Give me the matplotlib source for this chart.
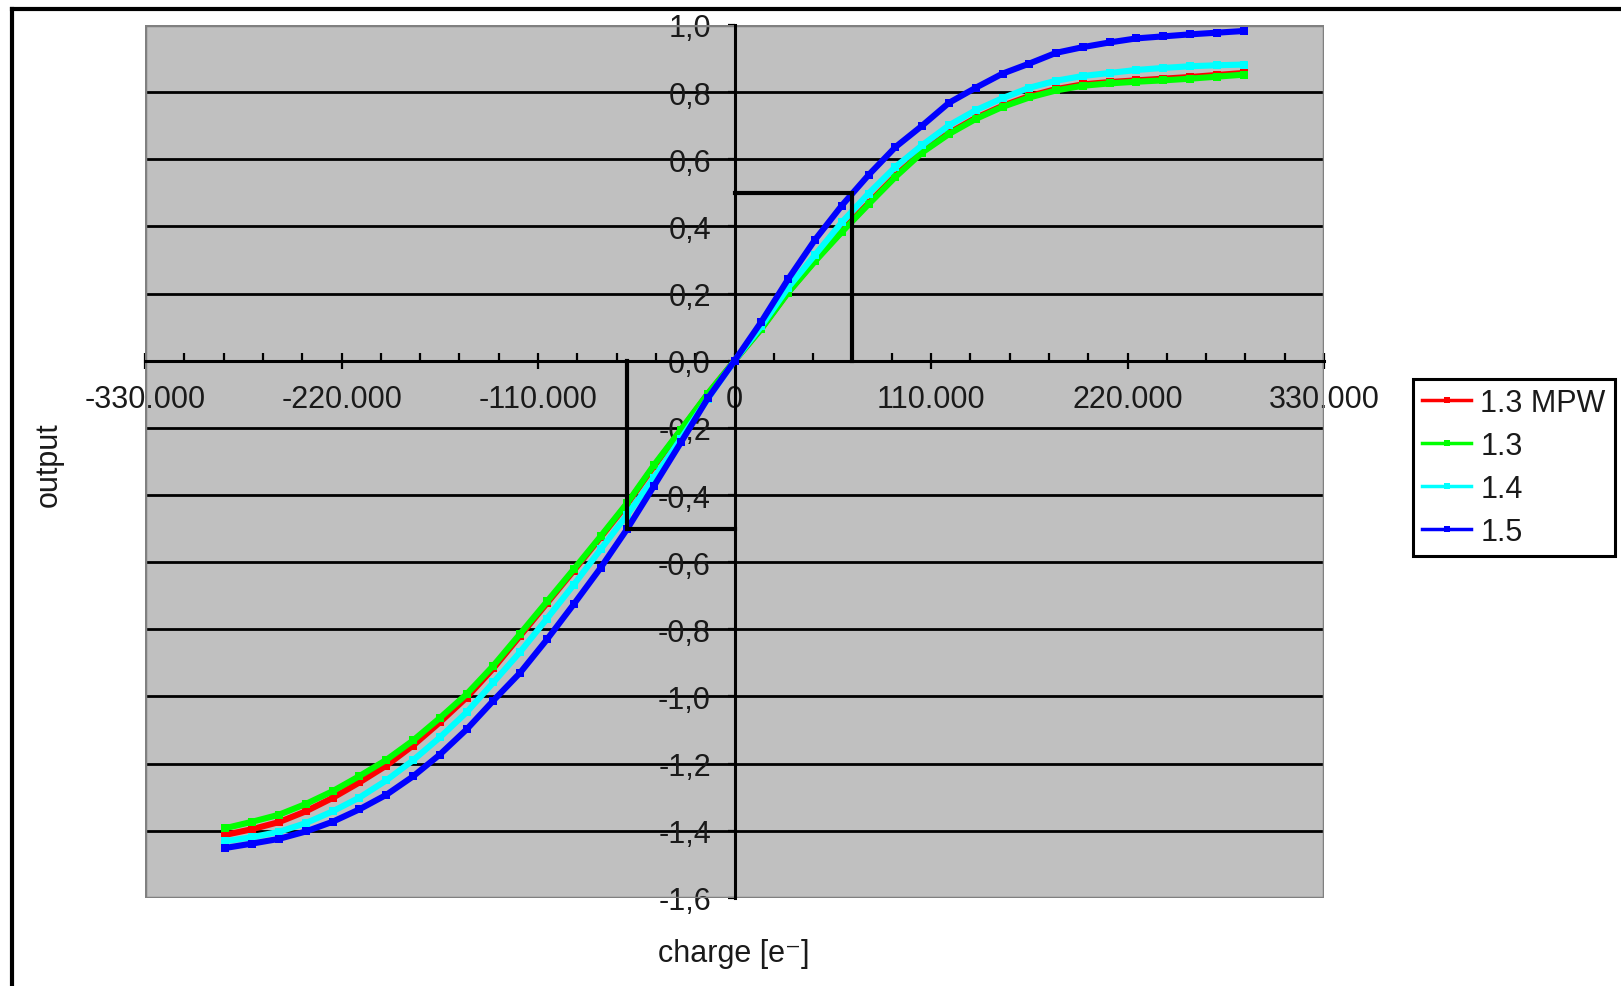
"""
Transfer curves: output vs injected charge for four chip versions.
Excel-style chart (gray plot area, axes crossing at the origin).
"""

import matplotlib
matplotlib.use("Agg")
import matplotlib.pyplot as plt
from matplotlib.patches import Rectangle
from matplotlib.lines import Line2D
from matplotlib.ticker import MultipleLocator

plt.rcParams.update({
    "font.family": ["Liberation Sans", "DejaVu Sans"],
    "axes.unicode_minus": False,
})

# ================================================================
# Data
# ================================================================
CHARGE = [
    -285000, -270000, -255000, -240000, -225000, -210000, -195000, -180000,
    -165000, -150000, -135000, -120000, -105000, -90000, -75000, -60000,
    -45000, -30000, -15000, 0, 15000, 30000, 45000, 60000, 75000, 90000,
    105000, 120000, 135000, 150000, 165000, 180000, 195000, 210000, 225000,
    240000, 255000, 270000, 285000,
]

OUT_13MPW = [
    -1.412, -1.395, -1.374, -1.342, -1.302, -1.256, -1.206, -1.146,
    -1.077, -1.003, -0.916, -0.819, -0.722, -0.625, -0.526, -0.426,
    -0.313, -0.207, -0.099, 0.0, 0.096, 0.204, 0.298, 0.386, 0.469, 0.550,
    0.623, 0.678, 0.723, 0.759, 0.788, 0.809, 0.823, 0.830, 0.835,
    0.840, 0.845, 0.851, 0.857,
]

OUT_13 = [
    -1.392, -1.373, -1.352, -1.320, -1.282, -1.237, -1.189, -1.131,
    -1.064, -0.993, -0.908, -0.813, -0.717, -0.621, -0.523, -0.423,
    -0.310, -0.205, -0.098, 0.0, 0.095, 0.203, 0.296, 0.383, 0.466, 0.547,
    0.620, 0.675, 0.720, 0.756, 0.784, 0.805, 0.819, 0.826, 0.831,
    0.835, 0.840, 0.846, 0.852,
]

OUT_14 = [
    -1.431, -1.419, -1.403, -1.377, -1.342, -1.301, -1.250, -1.190,
    -1.122, -1.047, -0.958, -0.867, -0.768, -0.667, -0.562, -0.458,
    -0.348, -0.232, -0.113, 0.0, 0.103, 0.218, 0.315, 0.412, 0.498, 0.577,
    0.642, 0.701, 0.746, 0.782, 0.813, 0.834, 0.848, 0.857, 0.866,
    0.872, 0.877, 0.880, 0.882,
]

OUT_15 = [
    -1.451, -1.438, -1.424, -1.402, -1.373, -1.336, -1.293, -1.238,
    -1.173, -1.098, -1.012, -0.929, -0.830, -0.725, -0.617, -0.500,
    -0.372, -0.243, -0.112, 0.0, 0.116, 0.243, 0.360, 0.462, 0.553, 0.636,
    0.700, 0.768, 0.813, 0.855, 0.885, 0.917, 0.934, 0.948, 0.960,
    0.966, 0.972, 0.977, 0.982,
]

SERIES_LABELS = ["1.3 MPW", "1.3", "1.4", "1.5"]
SERIES_COLORS = ["#FF0000", "#00FF00", "#00FFFF", "#0000FF"]

# threshold markers drawn on the chart (half-swing points of 1.5)
POS_MARK_X = [0, 66000, 66000]
POS_MARK_Y = [0.5, 0.5, 0.0]
NEG_MARK_X = [-60000, -60000, 0]
NEG_MARK_Y = [0.0, -0.5, -0.5]

X_TICKS = [-330000, -220000, -110000, 0, 110000, 220000, 330000]
X_LABELS = ["-330.000", "-220.000", "-110.000", "0", "110.000", "220.000", "330.000"]
Y_TICKS = [1.0, 0.8, 0.6, 0.4, 0.2, 0.0, -0.2, -0.4, -0.6, -0.8, -1.0, -1.2, -1.4, -1.6]
Y_LABELS = ["1,0", "0,8", "0,6", "0,4", "0,2", "0,0", "-0,2", "-0,4", "-0,6",
            "-0,8", "-1,0", "-1,2", "-1,4", "-1,6"]

TEXT_COLOR = "#1a1a1a"
FS = 22

# ================================================================
# Figure
# ================================================================
fig = plt.figure(figsize=(16.21, 9.87), dpi=100)
ax = fig.add_axes([0.0895, 0.0892, 0.7273, 0.8845])
ax.set_facecolor("#C0C0C0")
ax.set_xlim(-330000, 330000)
ax.set_ylim(-1.6, 1.0)

# axes crossing at the origin
for side in ("top", "right"):
    ax.spines[side].set_visible(False)
ax.spines["left"].set_position(("data", 0))
ax.spines["bottom"].set_position(("data", 0))
for side in ("left", "bottom"):
    ax.spines[side].set_color("black")
    ax.spines[side].set_linewidth(2.2)

ax.set_xticks(X_TICKS, labels=X_LABELS)
ax.xaxis.set_minor_locator(MultipleLocator(22000))
ax.set_yticks(Y_TICKS, labels=Y_LABELS)
ax.tick_params(axis="x", which="major", direction="inout", length=12, width=1.6,
               pad=11, labelsize=FS, labelcolor=TEXT_COLOR)
ax.tick_params(axis="x", which="minor", direction="in", length=6, width=1.6)
ax.tick_params(axis="y", direction="out", length=5, width=1.6,
               pad=12, labelsize=FS, labelcolor=TEXT_COLOR)

# horizontal grid, skipping the plot-area edges
ax.set_axisbelow(True)
ax.grid(axis="y", color="black", linewidth=2.0)
ax.grid(axis="x", visible=False)
gl = ax.get_ygridlines()
gl[0].set_visible(False)
gl[-1].set_visible(False)

# gray plot-area border
ax.add_patch(Rectangle((0, 0), 1, 1, transform=ax.transAxes, fill=False,
                       edgecolor="#808080", linewidth=2.5, zorder=1))

# curves
all_series = [OUT_13MPW, OUT_13, OUT_14, OUT_15]
for vals, color, label in zip(all_series, SERIES_COLORS, SERIES_LABELS):
    ax.plot(CHARGE, vals, color=color, linewidth=4.4, marker="s", markersize=5.5,
            markeredgewidth=0, label=label, zorder=3)

# half-swing markers
ax.plot(POS_MARK_X, POS_MARK_Y, color="black", linewidth=3.0, zorder=4,
        solid_joinstyle="miter")
ax.plot(NEG_MARK_X, NEG_MARK_Y, color="black", linewidth=3.0, zorder=4,
        solid_joinstyle="miter")

# legend
handles = [Line2D([0], [0], color=c, linewidth=2.5, marker="s", markersize=4,
                  markeredgewidth=0) for c in SERIES_COLORS]
leg = fig.legend(handles, SERIES_LABELS, loc="upper left",
                 bbox_to_anchor=(0.8717, 0.615), bbox_transform=fig.transFigure,
                 borderaxespad=0, fontsize=FS, frameon=True, fancybox=False,
                 framealpha=1, edgecolor="black", handlelength=1.6,
                 handletextpad=0.3, labelspacing=0.42, borderpad=0.3)
leg.get_frame().set_linewidth(2.2)
for t in leg.get_texts():
    t.set_color(TEXT_COLOR)

# axis titles
fig.text(0.4528, 0.0334, "charge [e\u207b]", ha="center", va="center",
         fontsize=FS, color=TEXT_COLOR)
fig.text(0.0302, 0.529, "output", ha="center", va="center", rotation=90,
         fontsize=FS, color=TEXT_COLOR)

# outer chart frame (cropped: only top and left edges visible)
fig.add_artist(Line2D([12 / 1621, 1.0], [1 - 9.5 / 987, 1 - 9.5 / 987],
                      transform=fig.transFigure, color="black", linewidth=3.0))
fig.add_artist(Line2D([12 / 1621, 12 / 1621], [0.0, 1 - 9.5 / 987],
                      transform=fig.transFigure, color="black", linewidth=3.0))

fig.savefig("out.png", dpi=100)
